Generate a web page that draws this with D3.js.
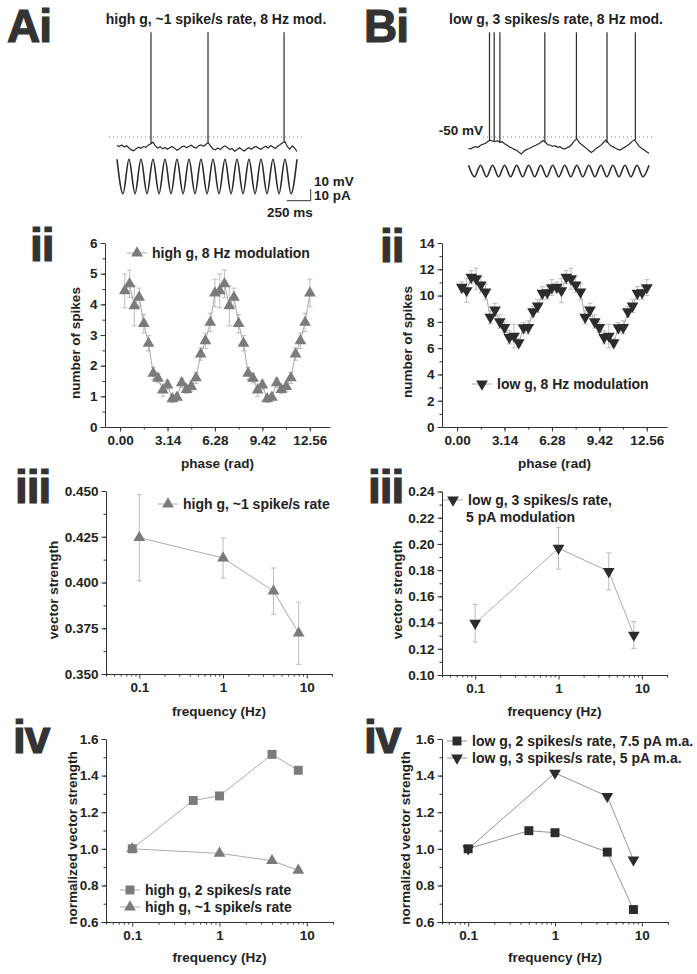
<!DOCTYPE html>
<html><head><meta charset="utf-8">
<script src="https://cdn.jsdelivr.net/npm/d3@7"></script>
<style>
body{margin:0;background:#fff;}
svg text{font-family:"Liberation Sans",Arial,sans-serif;font-weight:bold;fill:#222;}
</style></head><body>
<svg id="fig" width="697" height="974"></svg>
<script>
// ---------------- DATA ----------------
const traceDurationMs = 1875;
const traceStepMs = 25;
const vTraceA = [-57.5,-58.2,-57.0,-58.8,-57.6,-59.5,-61.2,-62.0,-60.1,-58.9,
 -59.8,-58.3,-59.0,-57.2,-56.0,-54.5,-57.8,-59.6,-58.4,-60.3,
 -59.1,-60.7,-59.4,-58.2,-59.9,-61.5,-60.2,-58.6,-57.9,-59.3,
 -58.0,-57.1,-58.8,-59.7,-57.6,-56.8,-58.1,-56.5,-54.8,-57.9,
 -60.4,-61.2,-59.6,-60.8,-59.0,-57.7,-59.2,-61.0,-60.0,-62.3,
 -61.1,-59.4,-60.9,-62.1,-60.5,-59.3,-60.6,-59.0,-58.2,-59.8,
 -60.7,-59.1,-58.0,-59.5,-57.3,-58.6,-59.9,-57.8,-56.5,-55.0,
 -53.9,-58.4,-60.5,-57.8,-59.6,-62.6];
const spikeTimesA = [354, 948, 1740];
const vTraceB = [-59.9,-60.3,-59.0,-58.4,-58.9,-57.2,-56.3,-55.6,-54.0,-52.8,
 -53.5,-54.1,-53.2,-54.6,-54.1,-55.8,-57.1,-58.6,-59.5,-60.8,
 -61.5,-63.2,-64.8,-62.4,-61.0,-60.2,-59.1,-58.0,-57.2,-56.0,
 -54.8,-53.0,-54.6,-56.9,-57.0,-58.2,-57.6,-58.9,-58.4,-59.9,
 -60.5,-59.2,-58.4,-56.1,-53.4,-51.4,-54.8,-56.6,-58.3,-59.9,
 -61.8,-63.5,-62.0,-59.9,-58.7,-57.1,-55.0,-52.8,-55.2,-57.5,
 -58.4,-59.6,-60.8,-61.3,-60.0,-58.8,-57.4,-55.9,-53.8,-52.4,
 -55.6,-58.4,-59.8,-61.3,-62.8,-64.2];
const spikeTimesB = [218, 267, 326, 793, 1121, 1439, 1733];
const spikePeakMv = 41;
const currentStepMs = 62.5;
const currentA = [15,-15,15,-15,15,-15,15,-15,15,-15,15,-15,15,-15,15,-15,15,-15,15,-15,15,-15,15,-15,15,-15,15,-15,15,-15,15];
const currentB = [5,-5,5,-5,5,-5,5,-5,5,-5,5,-5,5,-5,5,-5,5,-5,5,-5,5,-5,5,-5,5,-5,5,-5,5,-5,5];

const phaseRad = [0.31,0.63,0.94,1.26,1.57,1.88,2.20,2.51,2.83,3.14,3.46,3.77,4.08,4.40,4.71,5.03,5.34,5.65,5.97,6.28,
 6.60,6.91,7.23,7.54,7.85,8.17,8.48,8.80,9.11,9.42,9.74,10.05,10.37,10.68,11.00,11.31,11.62,11.94,12.25,12.57];
const highGSpikes = [4.44,4.67,3.95,4.23,3.37,2.73,1.75,1.59,1.20,1.37,0.92,0.97,1.44,1.22,1.32,1.60,2.38,2.81,3.41,4.37,
 4.44,4.67,3.95,4.23,3.37,2.73,1.75,1.59,1.20,1.37,0.92,0.97,1.44,1.22,1.32,1.60,2.38,2.81,3.41,4.37];
const highGSpikesErr = [0.55,0.45,0.65,0.30,0.30,0.25,0.20,0.15,0.20,0.15,0.12,0.12,0.15,0.12,0.15,0.18,0.20,0.25,0.30,0.45,
 0.55,0.45,0.65,0.30,0.30,0.25,0.20,0.15,0.20,0.15,0.12,0.12,0.15,0.12,0.15,0.18,0.20,0.25,0.30,0.45];
const lowGSpikes = [10.64,10.38,11.40,11.28,10.82,10.28,8.35,8.91,8.02,7.58,6.82,6.92,6.41,7.56,7.58,8.78,9.21,10.18,10.23,10.61,
 10.64,10.38,11.40,11.28,10.82,10.28,8.35,8.91,8.02,7.58,6.82,6.92,6.41,7.56,7.58,8.78,9.21,10.18,10.23,10.61];
const lowGSpikesErr = [0.4,0.9,0.5,0.8,0.6,0.6,0.5,0.5,0.5,0.4,0.5,0.9,0.3,0.4,0.5,0.4,0.5,0.5,0.5,0.6,
 0.4,0.9,0.5,0.8,0.6,0.6,0.5,0.5,0.5,0.4,0.5,0.9,0.3,0.4,0.5,0.4,0.5,0.5,0.5,0.6];
const phaseTicks = [0, 3.14, 6.28, 9.42, 12.56];
const spikesTicksHigh = [0,1,2,3,4,5,6];
const spikesTicksLow = [0,2,4,6,8,10,12,14];

const freqVS = [0.1, 1, 4, 8];
const highGVS = [0.4245, 0.4134, 0.3953, 0.3723];
const highGVSErr = [0.0235, 0.011, 0.0126, 0.017];
const lowGVS = [0.1395, 0.1967, 0.1790, 0.1305];
const lowGVSErr = [0.0143, 0.0160, 0.0141, 0.0102];
const vsTicksHigh = [0.350, 0.375, 0.400, 0.425, 0.450];
const vsTicksLow = [0.10, 0.12, 0.14, 0.16, 0.18, 0.20, 0.22, 0.24];

const freq5 = [0.1, 0.5, 1, 4, 8];
const freq4 = [0.1, 1, 4, 8];
const highG2Norm = [1.0, 1.264, 1.289, 1.516, 1.429];
const highG1Norm = [1.0, 0.975, 0.935, 0.882];
const lowG2Norm = [1.0, 1.099, 1.088, 0.982, 0.668];
const lowG3Norm = [1.0, 1.414, 1.287, 0.940];
const normTicks = [0.6, 0.8, 1.0, 1.2, 1.4, 1.6];
const freqTicks = [0.1, 1, 10];

// ---------------- DRAWING ----------------
const svg = d3.select('#fig');
const GRAY = '#7b7b7b', DARK = '#2c2c2c', LINE = '#a0a0a0', ERR = '#b4b4b4', AX = '#333';

function panelLabel(txt, x, y) {
  svg.append('text').attr('x', x).attr('y', y).attr('font-size', 46)
    .style('fill', '#333').attr('stroke', '#333').attr('stroke-width', 1.2)
    .attr('letter-spacing', -1).text(txt);
}
function text(txt, x, y, size, anchor) {
  return svg.append('text').attr('x', x).attr('y', y).attr('font-size', size)
    .attr('text-anchor', anchor || 'start').text(txt);
}

// ----- traces -----
function tracePanel(x0, x1, vTrace, spikes, current, iAmp, iCenter, dotX0, dotX1) {
  const t = d3.scaleLinear([0, traceDurationMs], [x0, x1]);
  const v = d3.scaleLinear([-50, 40], [137, 137 - 90 * 1.15]);
  const ic = d3.scaleLinear([-iAmp, iAmp], [iCenter + iAmp * 1.15, iCenter - iAmp * 1.15]);
  svg.append('line').attr('x1', dotX0).attr('x2', dotX1).attr('y1', v(-50)).attr('y2', v(-50))
    .attr('stroke', '#777').attr('stroke-width', 1).attr('stroke-dasharray', '1,3');
  svg.append('path').datum(vTrace)
    .attr('d', d3.line().x((d, i) => t(i * traceStepMs)).y(d => v(d)))
    .attr('fill', 'none').attr('stroke', '#2a2a2a').attr('stroke-width', 1.2);
  spikes.forEach(s => {
    const k = Math.round(s / traceStepMs);
    svg.append('line').attr('x1', t(s)).attr('x2', t(s))
      .attr('y1', v(vTrace[Math.min(k, vTrace.length - 1)])).attr('y2', v(spikePeakMv))
      .attr('stroke', '#2a2a2a').attr('stroke-width', 1.2);
  });
  svg.append('path').datum(current)
    .attr('d', d3.line().x((d, i) => t(i * currentStepMs)).y(d => ic(d)).curve(d3.curveMonotoneX))
    .attr('fill', 'none').attr('stroke', '#2a2a2a').attr('stroke-width', 1.6);
  return t;
}
panelLabel('Ai', 7, 42);
panelLabel('Bi', 364, 42);
text('high g, ~1 spike/s rate, 8 Hz mod.', 216, 24, 14, 'middle');
text('low g, 3 spikes/s rate, 8 Hz mod.', 556, 24, 14, 'middle');
const tA = tracePanel(117, 297, vTraceA, spikeTimesA, currentA, 15, 176.5, 109, 303);
tracePanel(468.5, 649, vTraceB, spikeTimesB, currentB, 5, 171, 483, 653);
// scale bar (250 ms, 10 mV / 10 pA)
const sbX1 = 310.7, sbX0 = sbX1 - (tA(250) - tA(0)), sbY = 200.7;
svg.append('path').attr('d', `M${sbX0},${sbY}H${sbX1}V${sbY - 10 * 1.15}`)
  .attr('fill', 'none').attr('stroke', '#333').attr('stroke-width', 1);
text('10 mV', 314, 186, 13.5);
text('10 pA', 314, 200, 13.5);
text('250 ms', 290, 217, 13.5, 'middle');
text('-50 mV', 483, 135, 13.5, 'end');

// ----- generic plot panel -----
function axes(o) {
  const [xa, xb] = o.x.range(), [ya, yb] = o.y.range();
  const style = g => g.attr('color', AX).attr('font-size', 13.5)
    .attr('font-family', '"Liberation Sans",Arial,sans-serif').call(g => g.selectAll('line,path').attr('stroke-width', 1));
  svg.append('g').attr('transform', `translate(${xa},0)`)
    .call(d3.axisLeft(o.y).tickValues(o.yMinor).tickFormat('').tickSize(2.5).tickSizeOuter(0))
    .call(style).call(g => g.select('.domain').remove());
  svg.append('g').attr('transform', `translate(${xa},0)`)
    .call(d3.axisLeft(o.y).tickValues(o.yTicks).tickFormat(o.yFmt).tickSize(4.5).tickPadding(3).tickSizeOuter(0))
    .call(style);
  svg.append('g').attr('transform', `translate(0,${ya})`)
    .call(d3.axisBottom(o.x).tickValues(o.xMinor).tickFormat('').tickSize(2.5).tickSizeOuter(0))
    .call(style).call(g => g.select('.domain').remove());
  svg.append('g').attr('transform', `translate(0,${ya})`)
    .call(d3.axisBottom(o.x).tickValues(o.xTicks).tickFormat(o.xFmt).tickSize(4.5).tickPadding(4).tickSizeOuter(0))
    .call(style);
  text(o.xTitle, (xa + xb) / 2, o.xTitleY, 13.5, 'middle');
  svg.append('text').attr('transform', `translate(${o.yTitleX},${o.yTitleY}) rotate(-90)`)
    .attr('text-anchor', 'middle').attr('dy', '0.35em').attr('font-size', 13.5).text(o.yTitle);
}
function marker(type, rot, size, fill) {
  return g => g.attr('d', d3.symbol().type(type).size(size)())
    .attr('fill', fill).attr('stroke', 'none');
}
function series(x, y, xs, ys, errs, sym, fill, opts = {}) {
  const pts = d3.zip(xs, ys, errs || xs.map(() => 0));
  if (errs) {
    const g = svg.append('g').attr('stroke', ERR).attr('stroke-width', 0.9).attr('fill', 'none');
    pts.forEach(([a, b, e]) => {
      const px = x(a), cw = 2.5;
      g.append('path').attr('d',
        `M${px},${y(b + e)}V${y(b - e)}M${px - cw},${y(b + e)}H${px + cw}M${px - cw},${y(b - e)}H${px + cw}`);
    });
  }
  svg.append('path').datum(pts).attr('d', d3.line().x(d => x(d[0])).y(d => y(d[1])))
    .attr('fill', 'none').attr('stroke', opts.line || LINE).attr('stroke-width', 0.9);
  pts.forEach(([a, b]) => drawSym(x(a), y(b), sym, fill));
}
function drawSym(px, py, sym, fill) {
  let type = d3.symbolTriangle, size = 60, rot = 0, dy = 0;
  if (sym === 'up') { dy = 0; }
  if (sym === 'down') { rot = 180; }
  if (sym === 'square') { type = d3.symbolSquare; size = 80; }
  svg.append('path').attr('d', d3.symbol().type(type).size(size)())
    .attr('transform', `translate(${px},${py + dy}) rotate(${rot})`)
    .attr('fill', fill);
}
function legendItem(x, y, sym, fill, label, lineColor) {
  svg.append('line').attr('x1', x - 10).attr('x2', x + 10).attr('y1', y).attr('y2', y)
    .attr('stroke', lineColor || LINE).attr('stroke-width', 0.9);
  drawSym(x, y, sym, fill);
  text(label, x + 15, y + 5, 14);
}
function minorLin(a, b, step) { return d3.range(a, b + step / 2, step); }
function minorLog(scale) {
  return scale.ticks().filter(v => Math.abs(Math.log10(v) - Math.round(Math.log10(v))) > 1e-6);
}

// ----- ii -----
const phX_L = d3.scaleLinear([-1, 13.9], [105, 330]);
const phX_R = d3.scaleLinear([-1, 13.9], [442, 667]);
const spY_L = d3.scaleLinear([0, 6], [427, 243]);
const spY_R = d3.scaleLinear([0, 14], [427, 243]);
const phMinor = minorLin(-1.57 + 1.57, 13.9, 1.57).filter(v => v <= 13.9);
panelLabel('ii', 30, 261);
panelLabel('ii', 380, 262);
axes({x: phX_L, y: spY_L, xTicks: phaseTicks, xFmt: d3.format('.2f'), xMinor: phMinor,
  yTicks: spikesTicksHigh, yFmt: d3.format('d'), yMinor: minorLin(0, 6, 0.5),
  xTitle: 'phase (rad)', xTitleY: 468, yTitle: 'number of spikes', yTitleX: 75, yTitleY: 343});
axes({x: phX_R, y: spY_R, xTicks: phaseTicks, xFmt: d3.format('.2f'), xMinor: phMinor,
  yTicks: spikesTicksLow, yFmt: d3.format('d'), yMinor: minorLin(0, 14, 1),
  xTitle: 'phase (rad)', xTitleY: 468, yTitle: 'number of spikes', yTitleX: 407, yTitleY: 342});
series(phX_L, spY_L, phaseRad, highGSpikes, highGSpikesErr, 'up', GRAY);
series(phX_R, spY_R, phaseRad, lowGSpikes, lowGSpikesErr, 'down', DARK);
legendItem(137, 253, 'up', GRAY, 'high g, 8 Hz modulation');
legendItem(482, 384, 'down', DARK, 'low g, 8 Hz modulation');

// ----- iii -----
const fX_L3 = d3.scaleLog([0.04, 20], [106, 332]);
const fX_R3 = d3.scaleLog([0.04, 20], [442, 667]);
const vsY_L = d3.scaleLinear([0.35, 0.45], [674, 491]);
const vsY_R = d3.scaleLinear([0.10, 0.24], [675, 491.5]);
panelLabel('iii', 15, 503);
panelLabel('iii', 368, 503);
axes({x: fX_L3, y: vsY_L, xTicks: freqTicks, xFmt: d3.format('~g'), xMinor: minorLog(fX_L3),
  yTicks: vsTicksHigh, yFmt: d3.format('.3f'), yMinor: minorLin(0.35, 0.45, 0.0125),
  xTitle: 'frequency (Hz)', xTitleY: 716, yTitle: 'vector strength', yTitleX: 53, yTitleY: 590});
axes({x: fX_R3, y: vsY_R, xTicks: freqTicks, xFmt: d3.format('~g'), xMinor: minorLog(fX_R3),
  yTicks: vsTicksLow, yFmt: d3.format('.2f'), yMinor: minorLin(0.10, 0.24, 0.01),
  xTitle: 'frequency (Hz)', xTitleY: 716, yTitle: 'vector strength', yTitleX: 397, yTitleY: 590});
series(fX_L3, vsY_L, freqVS, highGVS, highGVSErr, 'up', GRAY);
series(fX_R3, vsY_R, freqVS, lowGVS, lowGVSErr, 'down', DARK);
legendItem(168, 504, 'up', GRAY, 'high g, ~1 spike/s rate');
legendItem(453, 500, 'down', DARK, 'low g, 3 spikes/s rate,');
text('5 pA modulation', 466, 522, 14);

// ----- iv -----
const fX_L4 = d3.scaleLog([0.05, 20], [106, 333]);
const fX_R4 = d3.scaleLog([0.05, 20], [442, 668]);
const nY_L = d3.scaleLinear([0.6, 1.6], [922, 739]);
const nY_R = d3.scaleLinear([0.6, 1.6], [922, 739]);
panelLabel('iv', 13, 753);
panelLabel('iv', 364, 753);
axes({x: fX_L4, y: nY_L, xTicks: freqTicks, xFmt: d3.format('~g'), xMinor: minorLog(fX_L4),
  yTicks: normTicks, yFmt: d3.format('.1f'), yMinor: minorLin(0.6, 1.6, 0.1),
  xTitle: 'frequency (Hz)', xTitleY: 962, yTitle: 'normalized vector strength', yTitleX: 72, yTitleY: 838});
axes({x: fX_R4, y: nY_R, xTicks: freqTicks, xFmt: d3.format('~g'), xMinor: minorLog(fX_R4),
  yTicks: normTicks, yFmt: d3.format('.1f'), yMinor: minorLin(0.6, 1.6, 0.1),
  xTitle: 'frequency (Hz)', xTitleY: 962, yTitle: 'normalized vector strength', yTitleX: 405, yTitleY: 838});
series(fX_L4, nY_L, freq5, highG2Norm, null, 'square', GRAY);
series(fX_L4, nY_L, freq4, highG1Norm, null, 'up', GRAY);
series(fX_R4, nY_R, freq5, lowG2Norm, null, 'square', DARK, {line: '#888'});
series(fX_R4, nY_R, freq4, lowG3Norm, null, 'down', DARK, {line: '#888'});
legendItem(130, 890, 'square', GRAY, 'high g, 2 spikes/s rate');
legendItem(130, 907, 'up', GRAY, 'high g, ~1 spike/s rate');
legendItem(457, 741, 'square', DARK, 'low g, 2 spikes/s rate, 7.5 pA m.a.', '#888');
legendItem(457, 758, 'down', DARK, 'low g, 3 spikes/s rate, 5 pA m.a.', '#888');
</script>
</body></html>
